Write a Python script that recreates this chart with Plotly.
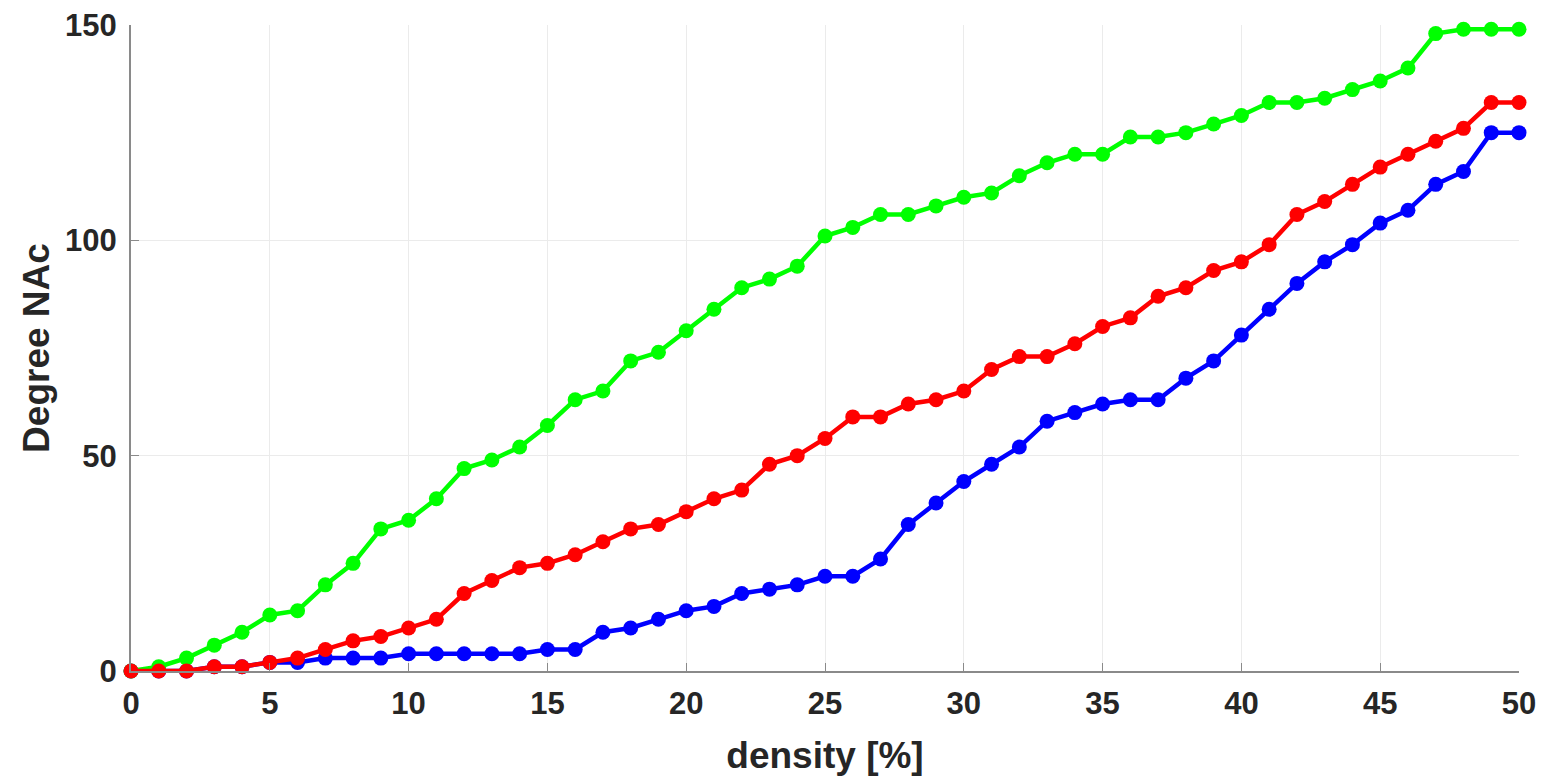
import plotly.graph_objects as go

density = list(range(0, 51))

green = [0, 1, 3, 6, 9, 13, 14, 20, 25, 33, 35, 40, 47, 49, 52, 57, 63, 65, 72, 74,
         79, 84, 89, 91, 94, 101, 103, 106, 106, 108, 110, 111, 115, 118, 120, 120,
         124, 124, 125, 127, 129, 132, 132, 133, 135, 137, 140, 148, 149, 149, 149]

red = [0, 0, 0, 1, 1, 2, 3, 5, 7, 8, 10, 12, 18, 21, 24, 25, 27, 30, 33, 34,
       37, 40, 42, 48, 50, 54, 59, 59, 62, 63, 65, 70, 73, 73, 76, 80, 82, 87,
       89, 93, 95, 99, 106, 109, 113, 117, 120, 123, 126, 132, 132]

blue = [0, 0, 0, 1, 1, 2, 2, 3, 3, 3, 4, 4, 4, 4, 4, 5, 5, 9, 10, 12,
        14, 15, 18, 19, 20, 22, 22, 26, 34, 39, 44, 48, 52, 58, 60, 62, 63, 63,
        68, 72, 78, 84, 90, 95, 99, 104, 107, 113, 116, 125, 125]

x_ticks = [0, 5, 10, 15, 20, 25, 30, 35, 40, 45, 50]
y_ticks = [0, 50, 100, 150]

fig = go.Figure()
for vals, col in [(blue, "#0000ff"), (green, "#00ff00"), (red, "#ff0000")]:
    fig.add_trace(go.Scatter(
        x=density, y=vals, mode="lines+markers",
        line=dict(color=col, width=4.5),
        marker=dict(color=col, size=15),
        cliponaxis=False, showlegend=False,
    ))

font_family = "Liberation Sans, Arial, sans-serif"
tick_font = dict(family=font_family, size=31, color="#262626", weight="bold")
title_font = dict(family=font_family, size=37, color="#262626", weight="bold")

fig.update_layout(
    width=1546, height=782,
    margin=dict(l=131, r=27, t=25, b=111),
    plot_bgcolor="white", paper_bgcolor="white",
    xaxis=dict(
        range=[0, 50], tickvals=x_ticks, showgrid=True, gridcolor="#ebebeb", gridwidth=1,
        zeroline=False, showline=True, linecolor="#8a8a8a", linewidth=2,
        ticks="inside", ticklen=8, tickcolor="#8a8a8a", automargin=False,
        tickfont=tick_font, ticklabelstandoff=4,
        title=dict(text="density [%]", font=title_font, standoff=22),
    ),
    yaxis=dict(
        range=[0, 150], tickvals=y_ticks, showgrid=True, gridcolor="#ebebeb", gridwidth=1,
        zeroline=False, showline=True, linecolor="#8a8a8a", linewidth=2,
        ticks="inside", ticklen=8, tickcolor="#8a8a8a", automargin=False,
        tickfont=tick_font, ticklabelstandoff=6,
        title=dict(text="Degree NAc", font=title_font, standoff=4),
    ),
)

fig.write_html("out.html")
